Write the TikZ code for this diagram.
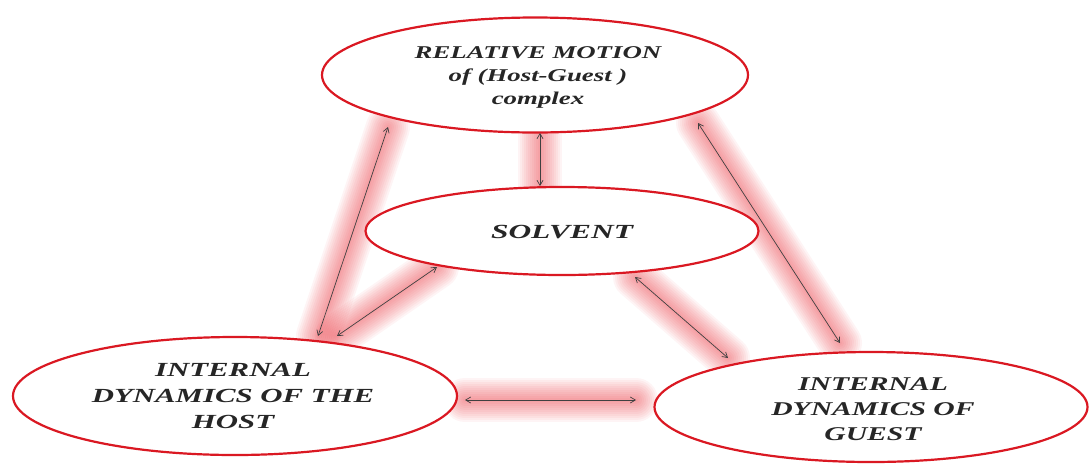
\documentclass[tikz,border=0pt]{standalone}
\usepackage{fontspec}
\setmainfont{Liberation Serif}
\usetikzlibrary{arrows.meta,shapes.geometric}
\definecolor{ered}{RGB}{218,24,34}
\definecolor{glowred}{RGB}{232,40,50}
\newcommand\glowlink[2]{%
  \foreach \w in {44,40,...,4}{\draw[glow, line width=\w pt] (#1) -- (#2);}}
\begin{document}
\begin{tikzpicture}[x=1pt,y=-1pt,
  oval/.style={ellipse, draw=ered, line width=2.2pt, fill=white, inner sep=0pt},
  lbl/.style={font=\bfseries\itshape\fontsize{20}{26}\selectfont, align=center, text=black!85},
  link/.style={{Straight Barb[length=5pt,width=6pt]}-{Straight Barb[length=5pt,width=6pt]}, line width=0.7pt, draw=black!75},
  glow/.style={draw=glowred, line cap=round, opacity=0.05}
]
\useasboundingbox (0,0) rectangle (1089,464);
% connector end points
\coordinate (a1) at (388,127);
\coordinate (b1) at (318,336);
\coordinate (a2) at (437,267);
\coordinate (b2) at (337,336);
\coordinate (a3) at (540,133);
\coordinate (b3) at (540,186);
\coordinate (a4) at (698,123);
\coordinate (b4) at (840,343);
\coordinate (a5) at (635,277);
\coordinate (b5) at (728,358);
\coordinate (a6) at (465,400);
\coordinate (b6) at (636,400);
% glows
\glowlink{a1}{b1}
\glowlink{a2}{b2}
\glowlink{a3}{b3}
\glowlink{a4}{b4}
\glowlink{a5}{b5}
\glowlink{a6}{b6}
% ellipses
\node[oval, minimum width=426pt, minimum height=115pt] (rel) at (535,75) {};
\node[oval, minimum width=393pt, minimum height=88pt] (sol) at (562,231) {};
\node[oval, minimum width=444pt, minimum height=118pt] (host) at (235,396) {};
\node[oval, minimum width=433pt, minimum height=110pt] (guest) at (871,407) {};
% labels
\node[lbl, font=\bfseries\itshape\fontsize{18}{23}\selectfont] (relt) at (538,77)
  {\scalebox{1.49}[1]{\begin{tabular}{c}RELATIVE MOTION\\of (Host-Guest )\\complex\end{tabular}}};
\node[lbl] (solt) at (562,232)
  {\scalebox{1.57}[1]{SOLVENT}};
\node[lbl] (hostt) at (233,397)
  {\scalebox{1.54}[1]{\begin{tabular}{c}INTERNAL\\DYNAMICS OF THE\\HOST\end{tabular}}};
\node[lbl, font=\bfseries\itshape\fontsize{19.5}{25}\selectfont] (guestt) at (873,410)
  {\scalebox{1.52}[1]{\begin{tabular}{c}INTERNAL\\DYNAMICS OF\\GUEST\end{tabular}}};
% connectors
\draw[link] (a1) -- (b1);
\draw[link] (a2) -- (b2);
\draw[link] (a3) -- (b3);
\draw[link] (a4) -- (b4);
\draw[link] (a5) -- (b5);
\draw[link] (a6) -- (b6);
\end{tikzpicture}
\end{document}
